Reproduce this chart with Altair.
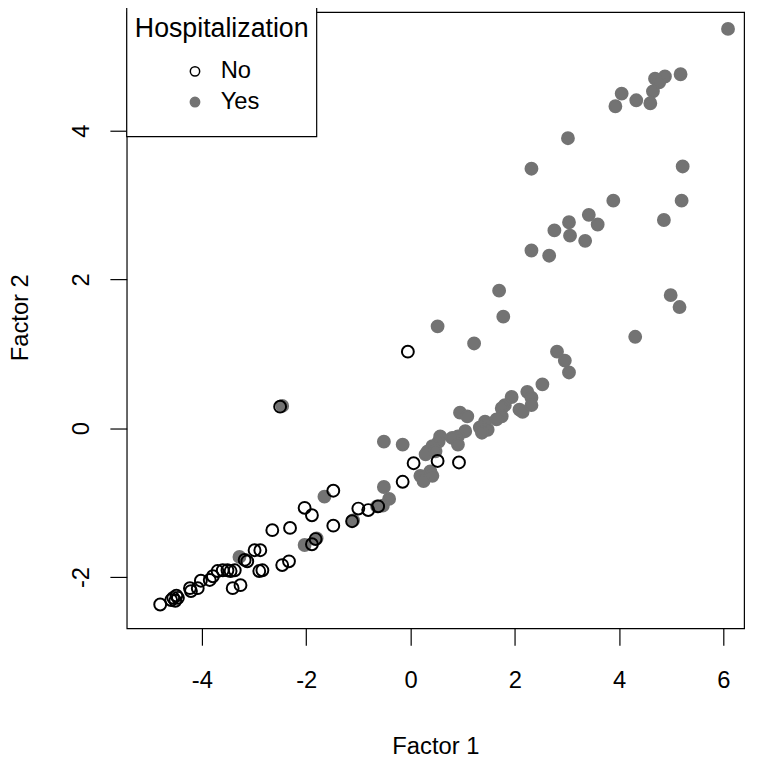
import altair as alt
import pandas as pd

# Hospitalization = Yes (filled grey points)
yes_x = [6.09, 5.18, 4.88, 4.69, 4.77, 4.65, 4.60, 4.33, 4.05, 3.93,
         3.02, 2.32, 5.22, 3.89, 5.20, 4.86, 3.42, 3.59, 3.04, 3.06,
         2.76, 3.35, 2.32, 2.66, 1.70, 1.78, 4.99, 5.16, 4.31, 2.81,
         2.96, 3.04, 2.53, 2.24, 2.32, 1.94, 1.81, 1.75, 2.09, 2.15,
         2.32, 1.75, 1.65, 1.43, 1.48, 1.33, 1.37, 0.95, 1.09, 1.05,
         0.91, 0.80, 0.91, 0.57, 0.54, 0.42, 0.33, 0.29, 0.48, 0.38,
         0.19, 0.42, 0.25, 0.52, 1.22, -0.51, -0.15, -0.51, -0.41, -0.53,
         -0.64, -1.65, -1.10, -2.03, -1.80, -3.28, -2.46]
yes_y = [5.37, 4.76, 4.73, 4.70, 4.65, 4.53, 4.37, 4.41, 4.50, 4.33,
         3.90, 3.49, 3.52, 3.06, 3.06, 2.80, 2.87, 2.74, 2.77, 2.59,
         2.66, 2.52, 2.39, 2.32, 1.85, 1.50, 1.79, 1.63, 1.23, 1.03,
         0.91, 0.75, 0.59, 0.49, 0.41, 0.42, 0.31, 0.27, 0.25, 0.22,
         0.31, 0.16, 0.12, 0.09, -0.02, 0.01, -0.06, 0.21, 0.16, -0.04,
         -0.11, -0.13, -0.22, -0.11, -0.18, -0.24, -0.31, -0.35, -0.31, -0.58,
         -0.64, -0.64, -0.71, 1.37, 1.14, -0.18, -0.22, -0.79, -0.95, -1.04,
         -1.05, -0.92, -1.24, -1.57, -1.48, -1.73, 0.30]

# Hospitalization = No (open circles)
no_x = [-0.05, -2.50, 0.06, 0.52, 0.93, -0.15, -0.62, -0.81, -1.00, -1.12,
        -1.48, -1.48, -2.03, -1.89, -2.65, -2.31, -1.89, -1.82, -2.46, -2.33,
        -2.99, -2.88, -3.18, -3.13, -2.90, -2.84, -3.41, -3.26, -3.37, -3.45,
        -3.51, -3.60, -3.70, -3.79, -3.85, -4.02, -4.08, -4.21, -4.23, -4.46,
        -4.49, -4.51, -4.59, -4.55, -4.80]
no_y = [1.03, 0.29, -0.47, -0.44, -0.46, -0.72, -1.05, -1.10, -1.08, -1.25,
        -1.31, -0.84, -1.07, -1.17, -1.37, -1.34, -1.56, -1.49, -1.84, -1.79,
        -1.64, -1.64, -1.77, -1.79, -1.92, -1.91, -2.15, -2.11, -1.91, -1.92,
        -1.91, -1.91, -1.92, -1.99, -2.04, -2.05, -2.15, -2.19, -2.15, -2.28,
        -2.25, -2.32, -2.31, -2.28, -2.37]

categories = ["No", "Yes"]
x_ticks = [-4, -2, 0, 2, 4, 6]
y_ticks = [-2, 0, 2, 4]

df = pd.concat([
    pd.DataFrame({"f1": yes_x, "f2": yes_y, "Hospitalization": "Yes"}),
    pd.DataFrame({"f1": no_x, "f2": no_y, "Hospitalization": "No"}),
], ignore_index=True)
df["order"] = range(len(df))

FONT = "Liberation Sans"
GREY = "#737373"

legend = alt.Legend(
    orient="none", legendX=0, legendY=-4,
    padding=8,
    titleFontSize=27, titleFontWeight="normal", titleColor="black",
    titleAnchor="middle", titlePadding=17, titleLimit=400,
    labelFontSize=24, labelColor="black", labelOffset=14,
    symbolSize=90, symbolStrokeWidth=1.5,
    symbolType="circle", rowPadding=7,
)

# legend frame (decoration)
frame = alt.Chart(pd.DataFrame({"k": [0]})).mark_rect(
    fill="white", stroke="black", strokeWidth=1.2
).encode(
    x=alt.value(0), x2=alt.value(192), y=alt.value(-6), y2=alt.value(126)
)

points = alt.Chart(df).mark_point(
    shape="circle", size=144, strokeWidth=2, opacity=1
).encode(
    x=alt.X("f1:Q", title="Factor 1",
            scale=alt.Scale(domain=[-5.442, 6.398], nice=False, zero=False),
            axis=alt.Axis(values=x_ticks, labelPadding=24, titleY=126,
                          titleX=312, titleBaseline="alphabetic",
                          labelExpr="'' + datum.value")),
    y=alt.Y("f2:Q", title="Factor 2",
            scale=alt.Scale(domain=[-2.691, 5.597], nice=False, zero=False),
            axis=alt.Axis(values=y_ticks, labelAngle=270, labelAlign="center",
                          labelBaseline="alphabetic", labelPadding=22,
                          titleX=-100, titleY=308.5, titleAngle=270,
                          titleBaseline="alphabetic", titleAlign="center",
                          labelExpr="'' + datum.value")),
    fill=alt.Fill("Hospitalization:N",
                  scale=alt.Scale(domain=categories, range=["transparent", GREY]),
                  legend=legend),
    stroke=alt.Stroke("Hospitalization:N",
                      scale=alt.Scale(domain=categories, range=["black", GREY]),
                      legend=legend),
    order=alt.Order("order:Q"),
)

chart = alt.layer(frame, points).properties(
    width=624, height=623,
    autosize=alt.AutoSizeParams(type="none"),
    padding={"left": 120, "top": 0, "right": 8, "bottom": 130},
).configure(
    font=FONT,
).configure_view(
    stroke="black", strokeWidth=1.2, fill="white",
).configure_axis(
    grid=False, domain=False, ticks=True, tickSize=17, tickWidth=1.2,
    tickColor="black", labelFontSize=24, labelColor="black", labelFont=FONT,
    titleFontSize=24, titleFontWeight="normal", titleColor="black", titleFont=FONT,
    labelFlush=False, labelOverlap=False,
)

chart.save("out.html", embed_options={"renderer": "svg", "actions": False})
